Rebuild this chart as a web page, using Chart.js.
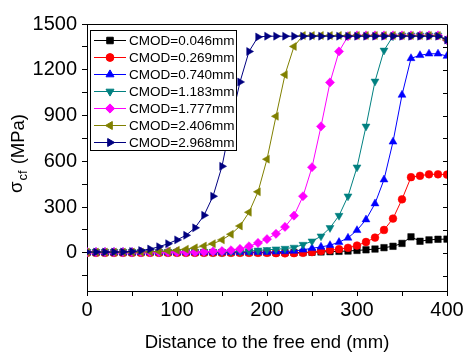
<!DOCTYPE html>
<html lang="en">
<head>
    <meta charset="UTF-8">
    <title>sigma_cf vs distance</title>
    <script src="https://cdn.jsdelivr.net/npm/chart.js"></script>
    <style>
        html, body { margin: 0; padding: 0; background: #fff; }
        #wrap { width: 467px; height: 352px; }
    </style>
</head>
<body>
    <div id="wrap"><canvas id="cmodChart"></canvas></div>
    <script>
        // distance to the free end (mm)
        const distance = [0, 10, 20, 30, 40, 50, 60, 70, 80, 90, 100, 110, 120, 130, 140, 150, 160, 170, 180, 190, 200,
                          210, 220, 230, 240, 250, 260, 270, 280, 290, 300, 310, 320, 330, 340, 350, 360, 370, 380, 390, 400];

        const seriesLabels = ['CMOD=0.046mm', 'CMOD=0.269mm', 'CMOD=0.740mm', 'CMOD=1.183mm',
                              'CMOD=1.777mm', 'CMOD=2.406mm', 'CMOD=2.968mm'];

        // sigma_cf (MPa)
        const cmod0046 = [2, 2, 2, 2, 2, 2, 2, 2, 2, 2, 2, 2, 2, 2, 2, 2, 2, 2, 2, 2, 2,
                          2, 2, 2, 3, 4, 6, 8, 10, 12, 16, 20, 25, 34, 43, 62, 105, 76, 85, 89, 90];
        const cmod0269 = [0, 0, 0, 0, 0, 0, 0, 0, 0, 0, 0, 0, 0, 0, 0, 0, 0, 0, 0, 0, 0,
                          -2, -3, -2, 0, 5, 12, 18, 24, 33, 48, 71, 100, 150, 225, 351, 496, 505, 515, 515, 513];
        const cmod0740 = [5, 5, 5, 5, 5, 5, 5, 5, 5, 5, 5, 5, 5, 5, 5, 5, 5, 5, 5, 5, 5,
                          7, 9, 12, 20, 30, 39, 50, 70, 98, 148, 218, 323, 480, 728, 1035, 1275, 1295, 1305, 1305, 1290];
        const cmod1183 = [5, 5, 5, 5, 5, 5, 5, 5, 5, 5, 5, 5, 5, 5, 5, 5, 7, 9, 12, 16, 20,
                          24, 28, 35, 54, 76, 109, 164, 244, 371, 561, 829, 1124, 1327, 1420, 1425, 1425, 1425, 1425, 1425, 1395];
        const cmod1777 = [5, 5, 5, 5, 5, 5, 5, 5, 5, 5, 5, 5, 5, 7, 9, 12, 17, 26, 43, 65, 90,
                          125, 170, 244, 371, 561, 829, 1117, 1320, 1420, 1425, 1425, 1425, 1425, 1425, 1425, 1425, 1425, 1425, 1425, 1395];
        const cmod2406 = [5, 5, 5, 5, 5, 5, 5, 7, 9, 12, 17, 24, 33, 45, 60, 85, 122, 176, 266, 400, 614,
                          895, 1168, 1353, 1425, 1425, 1425, 1425, 1425, 1425, 1425, 1425, 1425, 1425, 1425, 1425, 1425, 1425, 1425, 1425, 1395];
        const cmod2968 = [5, 5, 5, 5, 6, 9, 15, 25, 40, 60, 85, 115, 164, 246, 371, 567, 860, 1120, 1320, 1415, 1420,
                          1420, 1420, 1420, 1420, 1420, 1420, 1420, 1420, 1420, 1420, 1420, 1420, 1420, 1420, 1420, 1420, 1420, 1420, 1420, 1395];

        const yTicks = [-150, 0, 150, 300, 450, 600, 750, 900, 1050, 1200, 1350, 1500];

        const allSeries = [cmod0046, cmod0269, cmod0740, cmod1183, cmod1777, cmod2406, cmod2968];
        const colors = ['#000000', '#ff0000', '#0000ff', '#008080', '#ff00ff', '#808000', '#000080'];
        const shapes = [
            { style: 'rect', rot: 0, r: 4.6 },
            { style: 'circle', rot: 0, r: 3.9 },
            { style: 'triangle', rot: 0, r: 4.6 },
            { style: 'triangle', rot: 180, r: 4.6 },
            { style: 'rectRot', rot: 0, r: 4.6 },
            { style: 'triangle', rot: -90, r: 4.6 },
            { style: 'triangle', rot: 90, r: 4.6 }
        ];

        const datasets = allSeries.map((vals, i) => ({
            label: seriesLabels[i],
            data: distance.map((d, k) => ({ x: d, y: vals[k] })),
            borderColor: colors[i],
            backgroundColor: colors[i],
            borderWidth: 1,
            pointStyle: shapes[i].style,
            rotation: shapes[i].rot,
            pointRadius: shapes[i].r,
            pointBorderWidth: 0.5,
            order: allSeries.length - i
        }));

        // frame on top/right, inward ticks on the right
        const framePlugin = {
            id: 'frame',
            afterDraw(chart) {
                const { ctx, chartArea: a } = chart;
                const ys = chart.scales.y;
                ctx.save();
                ctx.strokeStyle = '#000';
                ctx.lineWidth = 1;
                ctx.beginPath();
                ctx.moveTo(a.left, a.top + 0.5);
                ctx.lineTo(a.right + 0.5, a.top + 0.5);
                ctx.lineTo(a.right + 0.5, a.bottom);
                yTicks.forEach(v => {
                    const py = Math.round(ys.getPixelForValue(v)) + 0.5;
                    ctx.moveTo(a.right, py);
                    ctx.lineTo(a.right - 4, py);
                });
                ctx.stroke();
                ctx.restore();
            }
        };

        // boxed legend with line + marker samples
        const legendPlugin = {
            id: 'boxLegend',
            afterDraw(chart) {
                const ctx = chart.ctx;
                ctx.save();
                ctx.fillStyle = '#fff';
                ctx.fillRect(90, 30, 146, 120);
                ctx.strokeStyle = '#000';
                ctx.lineWidth = 1;
                ctx.strokeRect(90.5, 30.5, 146, 120);
                ctx.font = '13.5px "Liberation Sans", Arial, sans-serif';
                ctx.textBaseline = 'middle';
                chart.data.datasets.forEach((ds, i) => {
                    const y = 40.5 + i * 17;
                    ctx.strokeStyle = ds.borderColor;
                    ctx.lineWidth = 1;
                    ctx.beginPath();
                    ctx.moveTo(94, y);
                    ctx.lineTo(126, y);
                    ctx.stroke();
                    ctx.fillStyle = ds.backgroundColor;
                    Chart.helpers.drawPoint(ctx, {
                        pointStyle: ds.pointStyle, rotation: ds.rotation,
                        radius: ds.pointRadius, borderWidth: 0.5
                    }, 110, y);
                    ctx.fillStyle = '#000';
                    ctx.fillText(ds.label, 129, y + 0.5);
                });
                ctx.restore();
            }
        };

        // rotated y title with subscript
        const yTitlePlugin = {
            id: 'yTitle',
            afterDraw(chart) {
                const ctx = chart.ctx;
                ctx.save();
                ctx.translate(19, 193);
                ctx.rotate(-Math.PI / 2);
                ctx.fillStyle = '#000';
                ctx.textBaseline = 'middle';
                const big = '18.5px "Liberation Sans", Arial, sans-serif';
                const small = '13px "Liberation Sans", Arial, sans-serif';
                let x = 0;
                ctx.font = big;
                ctx.fillText('\u03c3', x, -2);
                x += ctx.measureText('\u03c3').width + 1;
                ctx.font = small;
                ctx.fillText('cf', x, 4);
                x += ctx.measureText('cf').width + 1;
                ctx.font = big;
                ctx.fillText(' (MPa)', x, 0);
                ctx.restore();
            }
        };

        const tickFont = { family: '"Liberation Sans", Arial, sans-serif', size: 20 };

        new Chart(document.getElementById('cmodChart'), {
            type: 'line',
            data: { datasets },
            plugins: [framePlugin, legendPlugin, yTitlePlugin],
            options: {
                responsive: true,
                maintainAspectRatio: false,
                animation: false,
                layout: { padding: { top: 24, right: 20, left: 0, bottom: 0 } },
                plugins: { legend: { display: false }, tooltip: { enabled: false } },
                scales: {
                    x: {
                        type: 'linear',
                        min: 0,
                        max: 400,
                        afterFit: s => { s.height = 61; },
                        afterBuildTicks: s => {
                            s.ticks = [0, 50, 100, 150, 200, 250, 300, 350, 400].map(v => ({ value: v }));
                        },
                        ticks: {
                            color: '#000',
                            font: tickFont,
                            padding: 2,
                            maxRotation: 0,
                            autoSkip: false,
                            callback: v => (v % 100 === 0 ? String(v) : '')
                        },
                        grid: { drawOnChartArea: false, tickLength: 5, tickColor: '#000' },
                        border: { color: '#000', width: 1 },
                        title: {
                            display: true,
                            text: 'Distance to the free end (mm)',
                            color: '#000',
                            font: { family: '"Liberation Sans", Arial, sans-serif', size: 18.5, lineHeight: 1 },
                            padding: { top: 0, bottom: 0 }
                        }
                    },
                    y: {
                        min: -250,
                        max: 1500,
                        afterFit: s => { s.width = 87; },
                        afterBuildTicks: s => {
                            s.ticks = yTicks.map(v => ({ value: v }));
                        },
                        ticks: {
                            color: '#000',
                            font: tickFont,
                            padding: 5,
                            autoSkip: false,
                            callback: v => (v % 300 === 0 ? String(v) : '')
                        },
                        grid: { drawOnChartArea: false, tickLength: 5, tickColor: '#000' },
                        border: { color: '#000', width: 1 }
                    }
                }
            }
        });
    </script>
</body>
</html>
